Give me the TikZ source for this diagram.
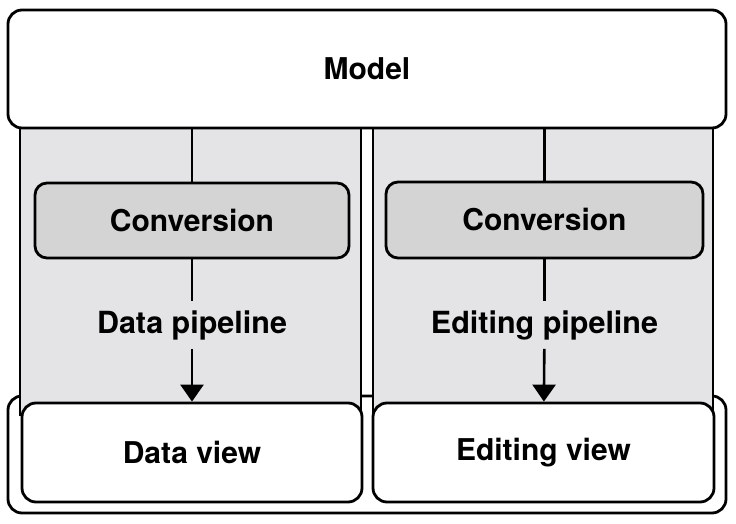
\documentclass[tikz,border=0pt]{standalone}
\usepackage{fontspec}
\setmainfont{TeX Gyre Heros}
\usetikzlibrary{arrows.meta,calc}

\definecolor{panelgrey}{RGB}{228,228,231}
\definecolor{convgrey}{RGB}{212,212,212}

\begin{document}
\begin{tikzpicture}[
  x=1pt, y=-1pt,
  box/.style={
      draw,
      line width=2.8pt,
      rounded corners=14pt,
      fill=white,
      inner sep=0pt,
      font=\fontsize{30}{35}\selectfont\bfseries
    },
  panel/.style={
      draw,
      line width=2.2pt,
      fill=panelgrey,
      inner sep=0pt
    },
  conv/.style={
      box,
      fill=convgrey,
      rounded corners=12pt
    },
  flow/.style={
      line width=2.6pt
    },
  flow arrow/.style={
      flow,
      arrows = {-Triangle[length=17pt,width=23pt]}
    },
  label/.style={
      inner xsep=3pt,
      inner ysep=9pt,
      font=\fontsize{30.5}{35}\selectfont\bfseries
    }]
  \useasboundingbox (0,0) rectangle (736,524);

  % frame round both views
  \node [box, minimum width=718pt, minimum height=117pt] (frame) at (367,454.5) {};

  % the two pipelines
  \node [panel, minimum width=341pt, minimum height=300pt] (panel_a) at (190.5,265) {};
  \node [panel, minimum width=340pt, minimum height=300pt] (panel_b) at (543,265) {};

  \node [box, minimum width=718pt, minimum height=118pt] (model) at (367,69) {Model};

  \begin{scope}
    \node [conv, minimum width=314pt, minimum height=75pt] (conv_a) at (192,220.5) {Conversion};
    \node [label] (pipe_a) at ($(conv_a) + (0,104.5)$) {Data pipeline};
    \node [box, minimum width=340pt, minimum height=99pt] (view_a) at (192,452.5) {Data view};
    \draw [flow] (model.south -| conv_a) -- (conv_a);
    \draw [flow] (conv_a) -- (pipe_a);
    \draw [flow arrow] (pipe_a) -- (view_a);
  \end{scope}

  \begin{scope}
    \node [conv, minimum width=317pt, minimum height=76pt] (conv_b) at (544.5,220) {Conversion};
    \node [label] (pipe_b) at ($(conv_b) + (0,105)$) {Editing pipeline};
    \node [box, minimum width=341pt, minimum height=99pt] (view_b) at (543.5,452.5) {Editing view};
    \draw [flow] (model.south -| conv_b) -- (conv_b);
    \draw [flow] (conv_b) -- (pipe_b);
    \draw [flow arrow] (pipe_b) -- (view_b);
  \end{scope}
\end{tikzpicture}
\end{document}
